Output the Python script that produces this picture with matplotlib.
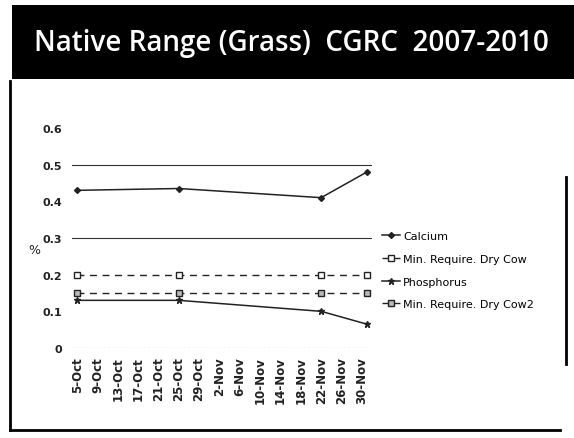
import matplotlib
matplotlib.use("Agg")
import matplotlib.pyplot as plt
from matplotlib.lines import Line2D
from matplotlib.patches import Rectangle
import pandas as pd

# Sample dates and values (% of dry matter)
dates = pd.to_datetime(["2010-10-05", "2010-10-25", "2010-11-22", "2010-12-01"])
calcium = [0.43, 0.435, 0.41, 0.48]
min_req_dry_cow = [0.20, 0.20, 0.20, 0.20]
phosphorus = [0.13, 0.13, 0.10, 0.065]
min_req_dry_cow2 = [0.15, 0.15, 0.15, 0.15]

y_ticks = [0, 0.1, 0.2, 0.3, 0.4, 0.5, 0.6]
y_tick_labels = ["0", "0.1", "0.2", "0.3", "0.4", "0.5", "0.6"]

INK = "#222222"

fig = plt.figure(figsize=(5.74, 4.39), dpi=100, facecolor="white")

# black title band of the slide
fig.patches.append(Rectangle((12 / 574, 1 - 80 / 439), 1 - 12 / 574, 74 / 439,
                             transform=fig.transFigure, facecolor="black",
                             edgecolor="none", zorder=0))
fig.text(34 / 574, 1 - 44 / 439, "Native Range (Grass)  CGRC  2007-2010",
         color="white", fontsize=20, family="Open Sans", fontweight="semibold",
         va="center", ha="left")

# slide frame lines
for xs, ys in [((10, 10), (82, 431)), ((10, 560), (431, 431)), ((566, 566), (178, 365))]:
    fig.add_artist(Line2D([x / 574 for x in xs], [1 - y / 439 for y in ys],
                          transform=fig.transFigure, color="black", linewidth=2))

ax = fig.add_axes([72 / 574, 1 - 349 / 439, 300 / 574, 220 / 439])
ax.set_facecolor("white")

ax.plot(dates, calcium, color=INK, linewidth=1.1, marker="D", markersize=3,
        label="Calcium")
ax.plot(dates, min_req_dry_cow, color=INK, linewidth=1.0, linestyle=(0, (5, 4)),
        marker="s", markersize=4, markerfacecolor="white", label="Min. Require. Dry Cow")
ax.plot(dates, phosphorus, color=INK, linewidth=1.1, marker="*", markersize=5,
        label="Phosphorus")
ax.plot(dates, min_req_dry_cow2, color=INK, linewidth=1.0, linestyle=(0, (5, 4)),
        marker="s", markersize=4, markerfacecolor="#bbbbbb", label="Min. Require. Dry Cow2")

ax.set_ylim(0, 0.6)
ax.set_yticks(y_ticks)
ax.set_yticklabels(y_tick_labels, fontweight="bold")
ax.set_xlim(pd.Timestamp("2010-10-04"), pd.Timestamp("2010-12-02"))
tick_dates = pd.date_range("2010-10-05", "2010-11-30", freq="4D")
ax.set_xticks(tick_dates)
ax.set_xticklabels([f"{d.day}-{d.strftime('%b')}" for d in tick_dates],
                   rotation=90, fontweight="bold")

for y in [0.3, 0.5]:
    ax.axhline(y, color="#333333", linewidth=0.8, zorder=0)
ax.axhline(0, color="#666666", linewidth=0.8, linestyle=(0, (2, 2)), zorder=0)

for spine in ax.spines.values():
    spine.set_visible(False)
ax.tick_params(axis="y", length=0, pad=7, labelsize=8, colors=INK)
ax.tick_params(axis="x", length=0, pad=6, labelsize=8.5, colors=INK)
ax.set_ylabel("%", rotation=0, fontsize=9, color=INK)
ax.yaxis.set_label_coords(-0.125, 0.42)

fig.legend(loc="upper left", bbox_to_anchor=(372 / 574, 1 - 222 / 439),
           frameon=False, fontsize=8, handlelength=1.6, labelspacing=1.15,
           handletextpad=0.3)

fig.savefig("out.png", dpi=100, facecolor="white")
